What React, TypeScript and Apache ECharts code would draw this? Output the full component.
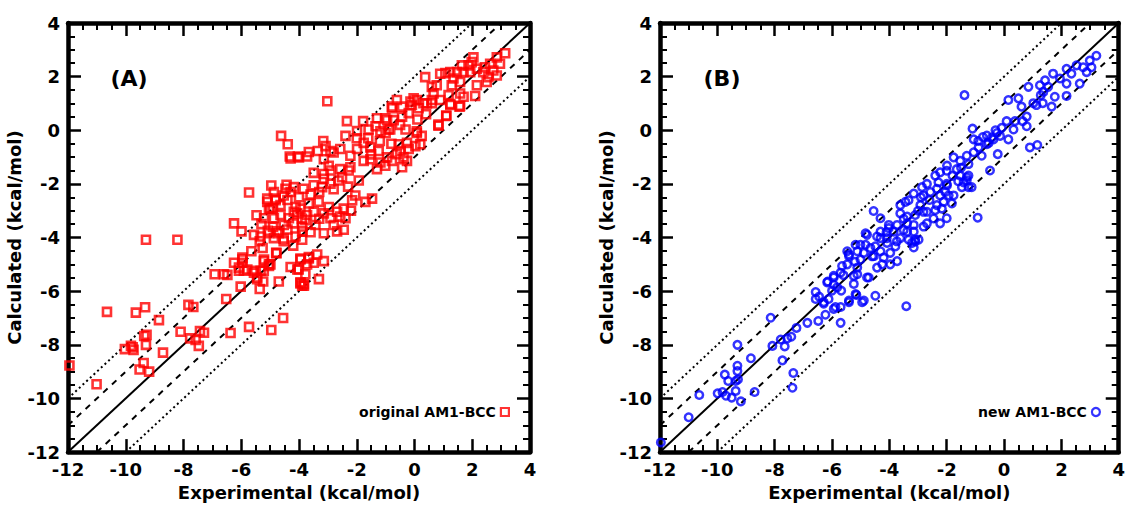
import React, { useEffect, useRef } from "react";
import * as echarts from "echarts";

// ---- Data (kcal/mol): [experimental, calculated] ----
const originalAM1BCC: [number, number][] = [
  [-10.65,-6.77],[-9.65,-6.8],[-9.33,-6.6],[-8.85,-7.08],[-7.83,-6.51],[-7.66,-6.59],[-6.52,-6.29],[-8.1,-7.51],
  [-7.77,-7.76],[-7.58,-7.82],[-7.47,-8.04],[-7.43,-7.49],[-7.29,-7.55],[-6.37,-7.56],[-5.73,-7.33],[-4.96,-7.45],
  [-4.55,-7.0],[-9.36,-7.67],[-9.28,-7.63],[-9.3,-8.0],[-9.82,-8.04],[-10.03,-8.16],[-9.73,-8.19],[-9.76,-8.09],
  [-8.71,-8.29],[-9.38,-8.68],[-9.52,-8.92],[-9.19,-9.0],[-11.95,-8.77],[-11.01,-9.47],
  [-9.3,-4.08],[-8.21,-4.08],[-5.73,-2.32],[-6.25,-3.47],[-5.99,-3.77],[-5.47,-3.17],[-5.21,-3.28],[-4.96,-2.06],
  [-4.43,-2.03],[-4.32,-0.98],[-4.04,-0.98],[-3.72,-0.98],[-5.1,-2.67],[-5.04,-2.92],[-4.81,-2.61],[-4.53,-2.43],
  [-4.29,-2.3],[-4.18,-3.04],[-4.64,-3.16],[-4.87,-3.28],[-3.95,-2.92],[-3.78,-3.35],[-5.56,-3.9],[-5.33,-3.96],
  [-5.08,-3.75],[-5.36,-4.14],[-4.87,-4.02],[-4.7,-3.84],[-4.53,-4.04],[-4.12,-3.96],[-3.89,-3.77],[-5.65,-4.51],
  [-5.26,-4.39],[-4.78,-4.58],[-5.21,-4.82],[-4.99,-5.0],[-6.25,-4.94],[-5.96,-4.82],[-6.08,-5.12],[-5.79,-5.19],
  [-5.56,-5.31],[-5.33,-5.24],[-5.45,-5.55],[-6.92,-5.37],[-6.6,-5.37],[-6.48,-5.39],[-6.02,-5.83],[-5.24,-5.64],
  [-5.36,-5.92],[-4.7,-5.64],[-4.29,-5.1],[-3.95,-4.78],[-3.66,-4.78],[-4.01,-5.19],[-3.78,-5.37],[-3.95,-5.71],
  [-3.83,-5.74],[-3.37,-4.63],[-3.14,-4.88],[-3.49,-4.94],[-3.31,-5.55],[-5.96,-4.75],[-5.91,-5.24],[-5.56,-5.24],
  [-5.45,-5.49],[-5.22,-5.24],[-5.04,-5.0],[-3.66,-4.73],[-3.83,-5.8],
  [-3.02,1.08],[-4.62,-0.21],[-4.39,-0.52],[-4.29,-1.05],[-4.0,-1.01],[-3.66,-0.81],[-3.35,-0.77],[-3.16,-0.4],
  [-3.08,-0.59],[-3.14,-1.08],[-2.91,-0.77],[-2.8,-0.83],[-2.57,-0.7],[-2.34,0.34],[-2.39,-0.21],[-1.99,-0.03],
  [-1.78,0.34],[-1.59,0.03],[-1.3,0.45],[-0.95,0.38],[-0.84,0.03],[-0.78,0.88],[-0.43,0.88],[-0.09,0.94],
  [0.08,1.13],[0.43,1.0],[0.6,1.13],[0.89,1.13],[1.24,0.98],[1.58,0.91],[0.83,0.21],[1.1,0.55],
  [0.08,-0.1],[0.25,-0.21],[0.2,-0.52],[0.03,-0.59],[-0.26,-0.47],[-0.55,-0.52],[-0.49,-0.77],[-0.61,-0.89],
  [-0.38,-1.01],[-0.26,-1.14],[-0.43,-1.38],[-0.95,-1.01],[-1.18,-1.2],[-1.3,-1.45],[-1.01,-1.32],[-0.78,-1.14],
  [-1.24,-0.77],[-1.53,-0.64],[-1.76,-0.47],[-1.99,-0.7],[-2.22,-0.95],[-2.22,-1.38],[-2.28,-1.5],[-1.76,-1.14],
  [-1.53,-1.08],[-1.93,-1.87],[-1.47,-2.55],[-1.7,-2.67],[-2.91,-1.5],[-3.14,-1.63],[-3.14,-1.81],[-3.49,-1.59],
  [-2.97,-1.32],[-2.57,-1.45],[-2.63,-1.87],[-2.51,-1.75],[-2.91,-1.99],[-3.2,-2.12],[-3.49,-2.05],[-3.84,-2.18],
  [-4.18,-2.12],[-4.47,-2.18],[-4.87,-2.3],[-5.1,-2.55],[-4.81,-2.55],[-4.99,-2.92],[-4.64,-2.79],[-4.12,-2.86],
  [-3.66,-2.73],[-3.32,-2.67],[-2.97,-2.86],[-2.68,-3.04],[-2.45,-2.92],[-2.16,-2.61],[-2.05,-2.43],[-4.35,-3.28],
  [-4.06,-3.1],[-3.72,-3.16],[-3.49,-3.04],[-3.14,-3.1],[-2.91,-3.28],[-2.57,-3.22],[-2.39,-3.28],[-2.8,-3.53],
  [-2.45,-3.71],[-2.68,-3.77],[-3.14,-3.84],[-3.43,-3.53],[-3.89,-3.59],[-4.18,-3.47],[-4.53,-3.53],[-4.75,-3.77],
  [-5.04,-3.84],[-4.53,-4.14],[-3.89,-4.08],[-4.79,-4.57],[-5.96,-4.94],[-6.08,-5.24],[-5.22,-4.88],[-5.04,-5.06],
  [-3.95,-4.82],[-3.72,-5.0],[-4.06,-5.19],[-3.95,-5.67],[-3.89,-5.8],
  [3.14,2.87],[2.85,2.72],[2.96,2.48],[2.62,2.48],[2.44,2.35],[2.73,2.23],[2.38,2.17],[2.04,2.72],
  [1.98,2.54],[1.87,2.42],[1.64,2.42],[2.16,2.3],[1.93,2.17],[1.7,2.17],[1.47,2.17],[1.24,2.17],
  [1.07,2.13],[0.89,2.11],[2.5,1.8],[2.16,1.68],[2.56,1.98],[2.85,2.04],[1.35,1.93],[1.29,1.68],
  [1.58,1.8],[0.37,1.98],[0.6,1.62],[0.77,1.68],[0.66,1.37],[1.18,1.31],[1.58,1.37],[1.7,1.25],
  [2.1,1.28],[1.24,0.94],[1.56,0.88],[1.1,0.53],[0.83,0.17],[0.08,-0.04],[-0.61,1.13],[-0.78,0.82],
  [-0.14,1.07],[-0.03,1.19],[0.6,1.01],[0.31,1.01],[0.14,0.82],[-0.2,0.64],[-0.43,0.51],[-0.72,0.38],
  [-1.01,0.45],[-1.35,0.15],[-1.18,-0.04],[-0.9,0.03],[-0.31,0.03],
  [-4.4,-2.6],[-4.0,-2.5],[-3.6,-2.4],[-3.3,-2.3],[-3.9,-3.3],[-4.4,-3.7],[-3.6,-3.8],[-3.3,-3.3],
  [-2.8,-2.2],[-2.3,-2.1],[-4.9,-2.9],[-5.3,-3.5],[-4.9,-3.6],[-4.2,-4.3],[-2.2,-3.0],
  [-1.6,-0.3],[-1.2,-0.4],[-0.8,-0.5],[-1.0,-0.1],[-0.5,0.2],[-1.5,-0.9],[-2.0,-0.3],[-0.2,-0.7],
  [0.1,0.4],[0.4,0.6]
];

const newAM1BCC: [number, number][] = [
  [-11.97,-11.64],[-11.0,-10.7],[-10.63,-9.87],[-9.99,-9.81],[-9.82,-9.76],[-9.7,-9.9],[-9.5,-9.97],[-9.36,-9.72],
  [-9.18,-10.11],[-9.74,-9.11],[-9.62,-9.35],[-9.36,-9.35],[-9.28,-9.29],[-9.3,-8.98],[-9.3,-8.78],[-9.3,-8.0],
  [-8.7,-9.76],[-8.83,-8.5],[-8.14,-6.99],[-8.08,-8.04],[-7.79,-7.8],[-7.65,-8.06],[-7.56,-7.76],[-7.42,-7.7],
  [-7.73,-8.58],[-7.35,-9.05],[-7.38,-9.6],[-7.24,-7.37],[-6.86,-7.18],[-6.48,-7.11],[-6.23,-6.88],[-5.7,-7.18],
  [-5.94,-6.66],[-5.7,-6.59],[-6.57,-6.29],[-6.45,-6.2],[-6.29,-6.41],[-6.12,-6.29],[-6.0,-5.98],[-6.15,-5.64],
  [-5.94,-5.76],[-5.82,-5.86],[-5.68,-5.98],[-5.41,-6.35],[-5.18,-6.11],[-4.89,-6.35],[-4.78,-5.49],[-5.7,-5.31],
  [-5.47,-5.0],[-5.41,-4.63],[-5.24,-5.43],[-5.12,-5.12],[-5.01,-4.82],[-5.94,-5.49],[-5.24,-5.73],
  [3.22,2.78],[2.99,2.6],[2.76,2.35],[2.53,2.42],[2.18,2.29],[2.35,2.11],[2.64,1.74],[2.88,2.17],
  [3.05,2.35],[1.71,2.11],[1.95,1.93],[2.18,1.74],[2.18,1.28],[1.77,1.25],[1.66,0.88],[1.43,1.86],
  [1.25,1.68],[1.37,1.43],[1.54,1.62],[1.28,1.31],[0.85,1.62],[1.02,1.01],[1.13,0.94],[1.35,1.01],
  [0.5,1.19],[0.15,1.13],[0.61,0.88],[-1.38,1.31],[0.79,0.51],[0.65,0.34],[0.38,0.34],[0.09,0.34],
  [-0.08,0.09],[0.33,0.03],[0.79,0.15],[0.15,-0.34],[-0.14,-0.21],[-0.25,-0.1],[-0.37,-0.34],[-0.54,-0.47],
  [-1.1,0.06],[-1.06,-0.34],[-0.74,-0.25],[-0.43,-0.28],[-0.6,-0.52],[-0.89,-0.64],[-0.78,-0.95],[-1.06,-0.82],
  [-1.3,-0.95],[-1.24,-1.26],[-1.53,-1.14],[-1.76,-1.01],[-1.99,-1.32],[-1.65,-1.45],[-1.3,-1.75],[-1.41,-1.94],
  [-1.24,-2.12],[-0.49,-1.5],[-0.22,-0.89],[0.9,-0.64],[1.16,-0.55],[-0.92,-3.26],[-2.4,-1.69],[-2.29,-1.94],
  [-1.99,-2.06],[-1.93,-2.43],[-2.23,-2.43],[-2.57,-2.3],[-2.81,-2.43],[-2.86,-2.12],[-3.15,-2.36],[-3.62,-2.79],
  [-3.44,-2.67],[-2.92,-2.79],[-2.69,-3.04],[-2.4,-2.98],[-2.17,-2.92],[-3.62,-3.1],[-3.38,-3.22],[-3.1,-3.16],
  [-2.81,-3.59],[-3.15,-3.78],[-3.5,-3.72],[-3.85,-3.78],[-4.02,-3.53],[-4.31,-3.28],[-4.55,-3.01],[-4.09,-4.02],
  [-4.43,-3.96],[-4.78,-3.9],[-4.83,-4.27],[-5.18,-4.27],[-4.49,-4.33],[-3.1,-4.08],[-3.74,-4.14],[-3.21,-4.2],
  [-4.83,-3.84],[-5.47,-4.51],[-5.41,-4.69],[-5.65,-5.06],[-5.94,-5.43],[-6.17,-5.67],[-6.57,-6.03],[-6.29,-6.47],
  [-5.88,-6.59],[-5.41,-6.41],[-5.15,-6.14],[-4.95,-6.41],[-4.49,-6.17],[-3.41,-6.56],[-5.12,-5.37],[-4.72,-5.49],
  [-4.43,-5.12],[-4.25,-5.0],[-3.97,-5.0],[-3.73,-4.88],[-4.2,-4.75],[-4.54,-4.69],[-4.89,-4.57],[-5.12,-4.51],
  [-5.01,-4.27],[-4.66,-4.39],[-4.31,-4.51],[-3.97,-4.57],[-3.79,-4.33],[-4.08,-4.2],[-3.62,-4.02],[-3.33,-4.08],
  [-3.1,-4.14],[-3.15,-4.37],[-2.98,-4.08],[-3.38,-3.78],[-3.15,-3.53],[-2.69,-3.47],[-2.46,-3.29],[-2.23,-3.47],
  [-2.0,-3.28],[-2.34,-2.79],[-2.11,-2.67],[-1.82,-2.73],[-1.76,-2.43],[-2.05,-2.3],[-2.34,-2.18],[-2.69,-2.0],
  [-3.33,-2.61],[-1.47,-2.12],[-1.3,-1.87],[-1.24,-1.69],[-1.53,-1.69],[-1.13,-2.12],[-2.23,-1.57],[-2.0,-1.51],
  [-2.81,-3.04],[-3.38,-3.47],[-3.73,-3.53],[-4.02,-3.65],[-4.31,-3.78],[-4.31,-4.02],
  [-0.6,-0.2],[-0.3,0.0],[-0.9,-0.4],[-1.5,-1.4],[-1.8,-1.7],[-2.6,-2.6],[-3.0,-3.0],[-3.5,-3.3],
  [-4.1,-3.8],[-4.6,-4.7],[-5.2,-4.9],[-5.6,-5.4],[-2.0,-2.0],[-1.6,-1.9],[-2.9,-2.5]
];

// Reference lines: y = x, y = x ± 1 (dashed), y = x ± 2 (dotted)
const identityLine: [number, number][] = [[-12, -12], [4, 4]];
const plusOneLine: [number, number][] = [[-12, -11], [3, 4]];
const minusOneLine: [number, number][] = [[-11, -12], [4, 3]];
const plusTwoLine: [number, number][] = [[-12, -10], [2, 4]];
const minusTwoLine: [number, number][] = [[-10, -12], [4, 2]];

const axisMin = -12;
const axisMax = 4;
const axisInterval = 2;
const xTitle = "Experimental (kcal/mol)";
const yTitle = "Calculated (kcal/mol)";
const panelLabels = ["(A)", "(B)"];
const seriesNames = ["original AM1-BCC", "new AM1-BCC"];

const FONT = "DejaVu Sans";

function makeAxis(gridIndex: number, position: string, isX: boolean, labelled: boolean): any {
  return {
    gridIndex,
    type: "value",
    position,
    min: axisMin,
    max: axisMax,
    interval: axisInterval,
    name: labelled ? (isX ? xTitle : yTitle) : "",
    nameLocation: "middle",
    nameGap: isX ? 26 : 39,
    nameTextStyle: { fontFamily: FONT, fontWeight: "bold", fontSize: 18, color: "#000" },
    axisLine: { show: true, onZero: false, lineStyle: { color: "#000", width: 4.5 } },
    axisTick: { show: true, inside: true, length: 13, lineStyle: { color: "#000", width: 2.5 } },
    minorTick: { show: true, splitNumber: 4, length: 7, lineStyle: { color: "#000", width: 2 } },
    axisLabel: {
      show: labelled,
      margin: 8,
      fontFamily: FONT,
      fontWeight: "bold",
      fontSize: 18,
      color: "#000",
      formatter: (v: number) => String(v),
    },
    splitLine: { show: false },
    minorSplitLine: { show: false },
  };
}

function refLine(data: [number, number][], gi: number, type: any): any {
  return {
    type: "line",
    xAxisIndex: gi * 2,
    yAxisIndex: gi * 2,
    data,
    symbol: "none",
    silent: true,
    lineStyle: { color: "#000", width: 2, type },
    z: 1,
  };
}

export default function App() {
  const ref = useRef<HTMLDivElement>(null);
  useEffect(() => {
    if (!ref.current) return;
    const chart = echarts.init(ref.current, undefined, { renderer: "svg" });
    const grids = [
      { left: 68, top: 23, width: 462, height: 434 },
      { left: 660, top: 23, width: 460, height: 434 },
    ];
    const series: any[] = [];
    [0, 1].forEach((gi) => {
      series.push(refLine(identityLine, gi, "solid"));
      series.push(refLine(plusOneLine, gi, [6, 6]));
      series.push(refLine(minusOneLine, gi, [6, 6]));
      series.push(refLine(plusTwoLine, gi, [2, 3]));
      series.push(refLine(minusTwoLine, gi, [2, 3]));
    });
    series.push({
      type: "scatter",
      name: seriesNames[0],
      xAxisIndex: 0,
      yAxisIndex: 0,
      data: originalAM1BCC,
      symbol: "rect",
      symbolSize: 8,
      itemStyle: { color: "rgba(0,0,0,0)", borderColor: "#ff0000", borderWidth: 2.6 },
      z: 3,
    });
    series.push({
      type: "scatter",
      name: seriesNames[1],
      xAxisIndex: 2,
      yAxisIndex: 2,
      data: newAM1BCC,
      symbol: "circle",
      symbolSize: 7.5,
      itemStyle: { color: "rgba(0,0,0,0)", borderColor: "#0000ff", borderWidth: 2.5 },
      z: 3,
    });

    const legendText = { fontFamily: FONT, fontWeight: "bold", fontSize: 14, color: "#000" };
    chart.setOption({
      animation: false,
      backgroundColor: "#fff",
      grid: grids,
      xAxis: [
        makeAxis(0, "bottom", true, true),
        makeAxis(0, "top", true, false),
        makeAxis(1, "bottom", true, true),
        makeAxis(1, "top", true, false),
      ],
      yAxis: [
        makeAxis(0, "left", false, true),
        makeAxis(0, "right", false, false),
        makeAxis(1, "left", false, true),
        makeAxis(1, "right", false, false),
      ],
      legend: [
        {
          data: [{ name: seriesNames[0], icon: "rect", itemStyle: { color: "rgba(0,0,0,0)", borderColor: "#ff0000", borderWidth: 2.2 } }],
          right: 618,
          top: 405,
          padding: 0,
          align: "right",
          itemWidth: 8,
          itemHeight: 8,
          selectedMode: false,
          textStyle: legendText,
        },
        {
          data: [{ name: seriesNames[1], icon: "circle", itemStyle: { color: "rgba(0,0,0,0)", borderColor: "#0000ff", borderWidth: 2.2 } }],
          right: 27,
          top: 405,
          padding: 0,
          align: "right",
          itemWidth: 8,
          itemHeight: 8,
          selectedMode: false,
          textStyle: legendText,
        },
      ],
      graphic: [
        {
          type: "text",
          x: 129,
          y: 78,
          style: { text: panelLabels[0], fontFamily: FONT, fontWeight: "bold", fontSize: 22, fill: "#000", textAlign: "center", textVerticalAlign: "middle" },
        },
        {
          type: "text",
          x: 722,
          y: 78,
          style: { text: panelLabels[1], fontFamily: FONT, fontWeight: "bold", fontSize: 22, fill: "#000", textAlign: "center", textVerticalAlign: "middle" },
        },
      ],
      series,
    });
    return () => chart.dispose();
  }, []);
  return <div ref={ref} style={{ position: "fixed", left: 0, top: 0, width: 1128, height: 506 }} />;
}
